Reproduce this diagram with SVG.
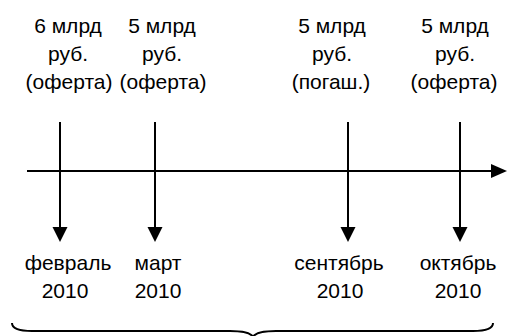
<svg xmlns="http://www.w3.org/2000/svg" width="507" height="336" viewBox="0 0 507 336">
<style>
text{font-family:"Liberation Sans",Arial,sans-serif;font-size:21px;fill:#000;text-anchor:middle}
.ln{stroke:#000;stroke-width:2;fill:none}
.ah{fill:#000}
</style>
<g id="connectors">
<line class="ln" x1="27" y1="171" x2="491" y2="171"/>
<path class="ah" d="M491,164 L507,171 L491,178 Z"/>
<line class="ln" x1="60" y1="122" x2="60" y2="228"/>
<path class="ah" d="M52.5,227 L67.5,227 L60,242 Z"/>
<line class="ln" x1="155" y1="122" x2="155" y2="228"/>
<path class="ah" d="M147.5,227 L162.5,227 L155,242 Z"/>
<line class="ln" x1="348" y1="122" x2="348" y2="228"/>
<path class="ah" d="M340.5,227 L355.5,227 L348,242 Z"/>
<line class="ln" x1="460" y1="122" x2="460" y2="228"/>
<path class="ah" d="M452.5,227 L467.5,227 L460,242 Z"/>
<path class="ln" d="M12,323 Q12,331 32,331 L230,331 Q250,331 253,337 Q256,331 276,331 L473,331 Q493,331 493,323"/>
</g>
<g id="top1"><text x="68" y="33">6 млрд</text><text x="68" y="61">руб.</text><text x="69" y="89">(оферта)</text></g>
<g id="top2"><text x="162" y="33">5 млрд</text><text x="162" y="61">руб.</text><text x="163" y="89">(оферта)</text></g>
<g id="top3"><text x="332" y="33">5 млрд</text><text x="332" y="61">руб.</text><text x="331" y="89">(погаш.)</text></g>
<g id="top4"><text x="455" y="33">5 млрд</text><text x="455" y="61">руб.</text><text x="454" y="89">(оферта)</text></g>
<g id="bot1"><text x="68" y="270">февраль</text><text x="65" y="298">2010</text></g>
<g id="bot2"><text x="158" y="270">март</text><text x="158" y="298">2010</text></g>
<g id="bot3"><text x="339" y="270">сентябрь</text><text x="340" y="298">2010</text></g>
<g id="bot4"><text x="458" y="270">октябрь</text><text x="458" y="298">2010</text></g>
</svg>
